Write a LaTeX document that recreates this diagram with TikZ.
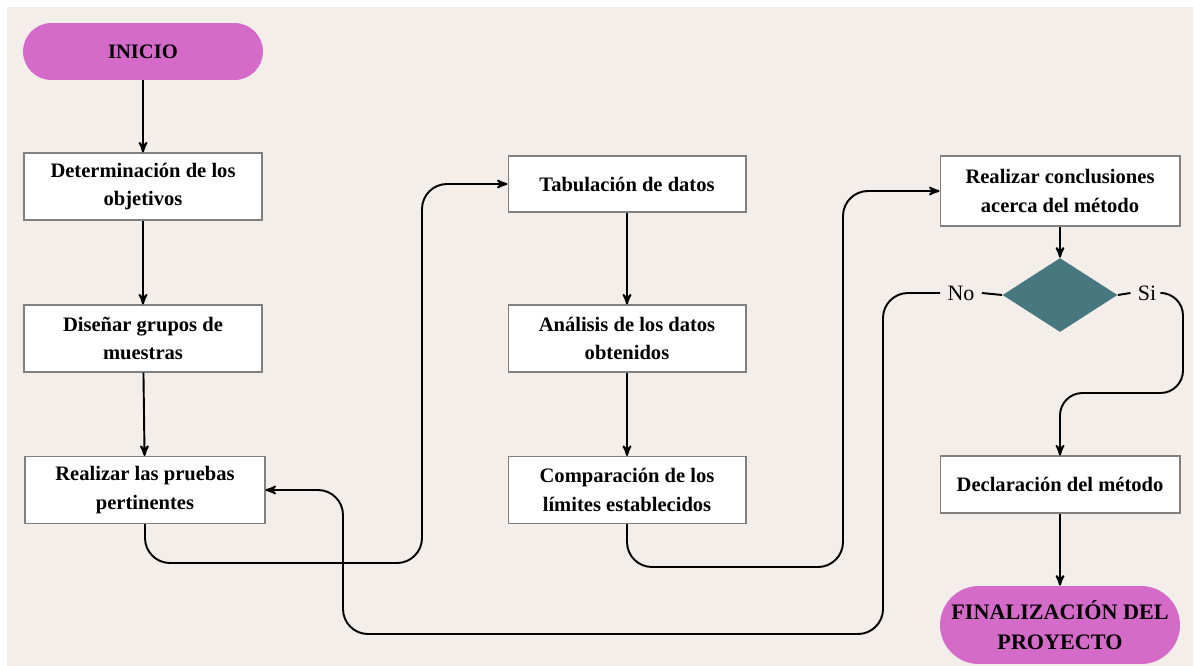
\documentclass[tikz,border=0pt]{standalone}
\usepackage{fontspec}
\setmainfont{Liberation Serif}
\usepackage{tikz}
\usetikzlibrary{arrows,shapes,backgrounds,calc}
\definecolor{fondo}{HTML}{F4EEEB}
\definecolor{rosa}{HTML}{D56BC8}
\definecolor{verdeazul}{HTML}{48787F}

\begin{document}
\begin{tikzpicture}[x=0.02cm,y=-0.02cm,
        caja/.style={rectangle,draw=black!50,fill=white,line width=0.6pt,align=center,
            minimum width=4.76cm,minimum height=1.34cm,inner sep=1pt,
            font=\fontsize{11.7}{16}\selectfont\bfseries},
        extremo/.style={rectangle,fill=rosa,align=center,minimum width=4.8cm,
            font=\fontsize{11.7}{16}\selectfont\bfseries},
        decision/.style={diamond,fill=verdeazul,inner sep=0pt,minimum width=2.3cm,minimum height=1.48cm},
        etiqueta/.style={font=\fontsize{12.5}{14}\selectfont,inner sep=4pt},
        flecha/.style={->,>=stealth',line width=1.1pt},
        linea/.style={line width=1.1pt}]
        \useasboundingbox[fill=white] (0,0) rectangle (1194,666);
        \fill[fondo] (7,7) rectangle (1193,666);

        \node[extremo,minimum height=1.14cm,rounded corners=0.57cm] (inicio) at (143,51.5) {INICIO};
        \node[caja] (objetivos) at (143,186.5) {Determinación de los\\objetivos};
        \node[caja] (grupos) at (143,338.5) {Diseñar grupos de\\muestras};
        \node[caja,minimum width=4.8cm] (pruebas) at (145,490) {Realizar las pruebas\\pertinentes};

        \node[caja,minimum height=1.12cm] (tabulacion) at (627,184) {Tabulación de datos};
        \node[caja] (analisis) at (627,338.5) {Análisis de los datos\\obtenidos};
        \node[caja] (comparacion) at (627,490) {Comparación de los\\límites establecidos};

        \node[caja,minimum width=4.8cm,minimum height=1.4cm] (conclusiones) at (1060,191) {Realizar conclusiones\\acerca del método};
        \node[decision] (pregunta) at (1060,295) {};
        \node[etiqueta] (no) at (961,293) {No};
        \node[etiqueta] (si) at (1147,293) {Si};
        \node[caja,minimum width=4.8cm,minimum height=1.14cm] (declaracion) at (1060,484.5) {Declaración del método};
        \node[extremo,minimum height=1.56cm,rounded corners=0.78cm,font=\fontsize{12.6}{17}\selectfont\bfseries] (fin) at (1060,625) {FINALIZACIÓN DEL\\PROYECTO};

        \draw[flecha] (inicio) -- (objetivos);
        \draw[flecha] (objetivos) -- (grupos);
        \draw[flecha] (grupos) -- (pruebas);
        \draw[flecha,rounded corners=0.5cm] (pruebas.south) |- (422,563) |- (tabulacion.west);

        \draw[flecha] (tabulacion) -- (analisis);
        \draw[flecha] (analisis) -- (comparacion);
        \draw[flecha,rounded corners=0.5cm] (comparacion.south) |- (843,567) |- (conclusiones.west);

        \draw[flecha] (conclusiones) -- (pregunta);
        \draw[linea] (pregunta.west) -- (no.east);
        \draw[flecha,rounded corners=0.5cm] (no.west) -| (883,634) -| (343,490) -- (pruebas.east);
        \draw[linea] (pregunta.east) -- (si.west);
        \draw[flecha,rounded corners=0.45cm] (si.east) -| (1183,393) -| (declaracion.north);
        \draw[flecha] (declaracion) -- (fin);
\end{tikzpicture}
\end{document}
